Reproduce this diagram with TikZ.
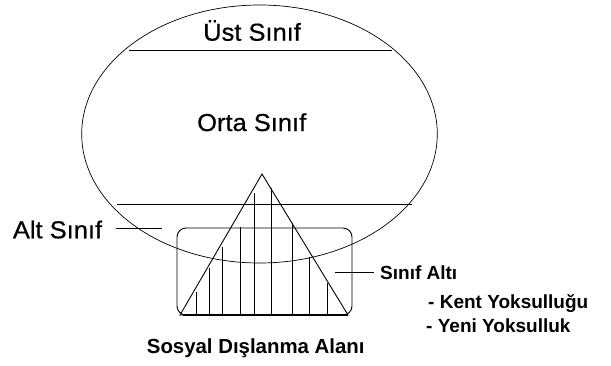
\documentclass[tikz,border=0pt]{standalone}
\usepackage{fontspec}
\setmainfont{Liberation Sans}
\newfontfamily\bigfont{Liberation Sans}[FakeStretch=1.04,FakeBold=0.6]
\begin{document}
\begin{tikzpicture}[x=1pt,y=-1pt,
  shapeline/.style={line width=0.9pt,black},
  thinline/.style={line width=0.7pt,black},
  biglabel/.style={inner sep=0pt,anchor=base west,font=\bigfont\fontsize{24.5}{26}\selectfont},
  smalllabel/.style={inner sep=0pt,anchor=base west,font=\bfseries\fontsize{19}{21}\selectfont},
  footlabel/.style={inner sep=0pt,anchor=base west,font=\bfseries\fontsize{20.4}{22}\selectfont}]
\useasboundingbox (0,0) rectangle (611,365);
% big ellipse
\draw[thinline] (259.5,134) ellipse [x radius=177.8, y radius=129];
% class boundaries
\coordinate (u1) at (129,50);
\coordinate (u2) at (392,50);
\draw[shapeline] (u1) -- (u2);
\coordinate (l1) at (117,204);
\coordinate (l2) at (412,204);
\draw[shapeline] (l1) -- (l2);
% rounded rectangle (underclass box)
\draw[shapeline,rounded corners=9pt] (177,228) rectangle (352,315);
% triangle (social exclusion)
\coordinate (apex) at (262,174);
\coordinate (bl) at (180,315);
\coordinate (br) at (348,315);
\draw[shapeline] (apex) -- (bl) -- (br) -- cycle;
\draw[line width=2pt] (183,315) -- (348,315);
% vertical hatching
\foreach \x/\y in {196.7/291.7, 209.3/268, 222.3/246.7, 240/226.7, 254/193,
                   271.7/188, 292.3/223, 309.3/256.7, 327.7/283}
  \draw[shapeline] (\x,\y) -- (\x,315);
% labels
\node[biglabel] (ust) at (203,40.7) {Üst Sınıf};
\node[biglabel] (orta) at (197,131) {Orta Sınıf};
\node[biglabel] (alt) at (12.7,238.3) {Alt Sınıf};
\node[smalllabel] (sinifalti) at (380,279) {Sınıf Altı};
\node[smalllabel] (kent) at (428,308.3) {- Kent Yoksulluğu};
\node[smalllabel] (yeni) at (426,332) {- Yeni Yoksulluk};
\node[footlabel] (sosyal) at (146.7,353.3) {Sosyal Dışlanma Alanı};
% leader lines
\coordinate (altA) at (116,228);
\coordinate (altB) at (162,228);
\draw[shapeline] (altA) -- (altB);
\coordinate (saA) at (335,272);
\coordinate (saB) at (374,272);
\draw[shapeline] (saA) -- (saB);
\end{tikzpicture}
\end{document}
